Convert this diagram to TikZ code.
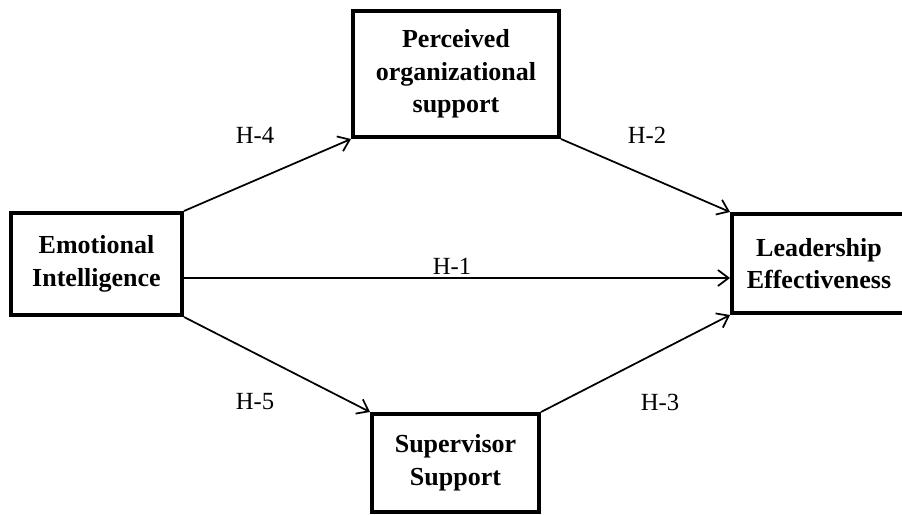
\documentclass[tikz,border=0pt]{standalone}
\usepackage{fontspec}
\setmainfont{Liberation Serif}
\usetikzlibrary{arrows.meta}
\tikzset{
	varbox/.style={draw, line width=3pt, align=center, font=\bfseries\fontsize{19.5}{24.5}\selectfont, inner sep=0pt},
	hyp/.style={line width=1.3pt, -{Straight Barb[length=8pt,width=12pt,line width=1.3pt]}},
	hlabel/.style={font=\fontsize{18.5}{20}\selectfont}
}

\begin{document}
\begin{tikzpicture}[x=0.75pt, y=-0.75pt]
		%%%%% START %%%%%
		\clip (0, 0) rectangle (902, 514);
		
		\node[varbox, minimum width=171*0.75pt, minimum height=102*0.75pt] (ei) at (96.5, 264) {Emotional\\Intelligence};
		\node[varbox, minimum width=206*0.75pt, minimum height=126*0.75pt] (pos) at (456, 74) {Perceived\\organizational\\support};
		\node[varbox, minimum width=174*0.75pt, minimum height=99*0.75pt] (le) at (819, 263.5) {Leadership\\Effectiveness};
		\node[varbox, minimum width=167*0.75pt, minimum height=98*0.75pt] (ss) at (455.5, 463) {Supervisor\\Support};
		
		\draw[hyp] (ei.north east) -- (pos.south west);
		\draw[hyp] (pos.south east) -- (le.north west);
		\draw[hyp] ([yshift=-10.5pt]ei.east) -- ([yshift=-10.5pt]ei.east -| le.west);
		\draw[hyp] (ei.south east) -- (ss.north west);
		\draw[hyp] (ss.north east) -- (le.south west);
		
		\node[hlabel] (h4) at (255, 135) {H-4};
		\node[hlabel] (h2) at (647, 135) {H-2};
		\node[hlabel] (h1) at (452, 266) {H-1};
		\node[hlabel] (h5) at (255, 402) {H-5};
		\node[hlabel] (h3) at (660, 402) {H-3};
		%%%%% END %%%%%
\end{tikzpicture}
\end{document}
